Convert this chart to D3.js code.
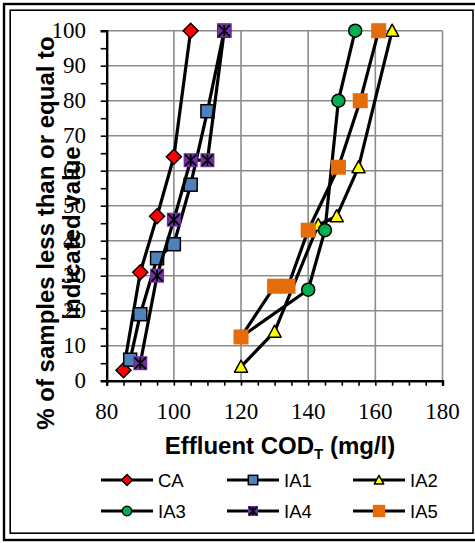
<!DOCTYPE html>
<html>
<head>
<meta charset="utf-8">
<script src="https://cdn.jsdelivr.net/npm/d3@7"></script>
<style>
	body { margin: 0; background: #fff; }
	svg { display: block; }
</style>
</head>
<body>
<svg id="chart" width="475" height="543"></svg>
<script>
// values: [effluent COD, % of samples]
const CA = [[85, 3], [90, 31], [95, 47], [100, 64], [105, 100]];
const IA1 = [[87, 6], [90, 19], [95, 35], [100, 39], [105, 56], [110, 77], [115, 100]];
const IA2 = [[120, 4], [130, 14], [143, 44.5], [148.5, 47], [155, 61], [165, 100]];
const IA3 = [[120, 12.5], [140, 26], [145, 43], [149, 80], [154, 100]];
const IA4 = [[90, 5], [95, 30], [100, 46], [105, 63], [110, 63], [115, 100]];
const IA5 = [[120, 12.5], [130, 27], [134, 27], [140, 43], [149, 61], [155.5, 80], [161, 100]];

const series_names = ['CA', 'IA1', 'IA2', 'IA3', 'IA4', 'IA5'];
const series_values = [CA, IA1, IA2, IA3, IA4, IA5];
const x_ticks = [80, 100, 120, 140, 160, 180];
const y_ticks = [0, 10, 20, 30, 40, 50, 60, 70, 80, 90, 100];

const serif = "'Liberation Serif'";
const sans = "'Liberation Sans'";

const markers = {
	CA: { shape: 'diamond', fill: '#ff0000', stroke: '#000', size: 15 },
	IA1: { shape: 'square', fill: '#4f81bd', stroke: '#000', size: 13 },
	IA2: { shape: 'triangle', fill: '#ffff00', stroke: '#000', size: 13 },
	IA3: { shape: 'circle', fill: '#00b050', stroke: '#000', size: 13 },
	IA4: { shape: 'star', fill: '#7030a0', stroke: '#000', size: 14 },
	IA5: { shape: 'square', fill: '#e46c0a', stroke: 'none', size: 15 },
};

const svg = d3.select('#chart');

// double frame (outer one runs off the right edge)
svg.append('rect')
	.attr('x', 4).attr('y', 4).attr('width', 474).attr('height', 536)
	.attr('fill', 'none').attr('stroke', '#000').attr('stroke-width', 2.4);
svg.append('rect')
	.attr('x', 10.2).attr('y', 10.2).attr('width', 462.8).attr('height', 523)
	.attr('fill', 'none').attr('stroke', '#000').attr('stroke-width', 1.6);

const x = d3.scaleLinear().domain([80, 180]).range([106.7, 442.5]);
const y = d3.scaleLinear().domain([0, 100]).range([380.7, 30.7]);

// gridlines
svg.append('g')
	.selectAll('line')
	.data(y_ticks.filter(d => d > 0))
	.join('line')
	.attr('x1', x(80)).attr('x2', x(180))
	.attr('y1', d => y(d)).attr('y2', d => y(d))
	.attr('stroke', '#8c8c8c').attr('stroke-width', 1.6);
svg.append('g')
	.selectAll('line')
	.data(x_ticks.filter(d => d > 80))
	.join('line')
	.attr('x1', d => x(d)).attr('x2', d => x(d))
	.attr('y1', y(0)).attr('y2', y(100))
	.attr('stroke', '#8c8c8c').attr('stroke-width', 1.6);

// axes, ticks only; labels drawn below
const gx = svg.append('g')
	.attr('transform', `translate(${[0, y(0)]})`)
	.call(d3.axisBottom(x).tickValues(d3.range(80, 181, 5)).tickSize(5).tickFormat(''));
gx.select('.domain').attr('stroke-width', 2.4);
gx.selectAll('.tick line').attr('stroke-width', 1.6);
gx.selectAll('.tick text').remove();

const gy = svg.append('g')
	.attr('transform', `translate(${[x(80), 0]})`)
	.call(d3.axisLeft(y).tickValues(d3.range(0, 101, 5)).tickSize(6).tickFormat(''));
gy.select('.domain').attr('stroke-width', 2.4);
gy.selectAll('.tick line').attr('stroke-width', 1.6);
gy.selectAll('.tick text').remove();

svg.append('g')
	.selectAll('text')
	.data(x_ticks)
	.join('text')
	.attr('x', d => x(d))
	.attr('y', 419)
	.attr('text-anchor', 'middle')
	.style('font-family', serif)
	.style('font-size', '23px')
	.attr('fill', '#000')
	.text(d => d);

svg.append('g')
	.selectAll('text')
	.data(y_ticks)
	.join('text')
	.attr('x', 86)
	.attr('y', d => y(d))
	.attr('dy', '0.33em')
	.attr('text-anchor', 'end')
	.style('font-family', serif)
	.style('font-size', '23px')
	.attr('fill', '#000')
	.text(d => d);

// axis titles
const xt = svg.append('text')
	.attr('x', 280).attr('y', 454)
	.attr('text-anchor', 'middle')
	.style('font-family', sans)
	.style('font-weight', 'bold')
	.style('font-size', '24px');
xt.append('tspan').text('Effluent COD');
xt.append('tspan').style('font-size', '15px').attr('dy', 5).text('T');
xt.append('tspan').attr('dy', -5).text(' (mg/l)');

const ytitle = ['% of samples less than or equal to', 'indicated value'];
svg.append('g')
	.selectAll('text')
	.data(ytitle)
	.join('text')
	.attr('transform', (d, i) => `translate(${[54 + i * 26, 233]}) rotate(-90)`)
	.attr('text-anchor', 'middle')
	.style('font-family', sans)
	.style('font-weight', 'bold')
	.style('font-size', '24px')
	.text(d => d);

// marker drawing
function drawMarker(g, m, scale) {
	const s = m.size * scale;
	const h = s / 2;
	if (m.shape === 'diamond') {
		g.append('path').attr('d', `M0,${-h}L${h},0L0,${h}L${-h},0Z`)
			.attr('fill', m.fill).attr('stroke', m.stroke).attr('stroke-width', 1.5);
	} else if (m.shape === 'square') {
		g.append('rect').attr('x', -h).attr('y', -h).attr('width', s).attr('height', s)
			.attr('fill', m.fill).attr('stroke', m.stroke).attr('stroke-width', 1.5);
	} else if (m.shape === 'triangle') {
		g.append('path').attr('d', `M0,${-h}L${h},${h * 0.85}L${-h},${h * 0.85}Z`)
			.attr('fill', m.fill).attr('stroke', m.stroke).attr('stroke-width', 1.5)
			.attr('stroke-linejoin', 'round');
	} else if (m.shape === 'circle') {
		g.append('circle').attr('r', h)
			.attr('fill', m.fill).attr('stroke', m.stroke).attr('stroke-width', 1.5);
	} else if (m.shape === 'star') {
		g.append('rect').attr('x', -h).attr('y', -h).attr('width', s).attr('height', s)
			.attr('fill', m.fill);
		const k = h * 0.8;
		g.append('path').attr('d', `M${-k},${-k}L${k},${k}M${k},${-k}L${-k},${k}M0,${-k}L0,${k}`)
			.attr('stroke', m.stroke).attr('stroke-width', 1.8);
	}
}

const line = d3.line()
	.x(d => x(d[0]))
	.y(d => y(d[1]));

const plot = svg.append('g');
series_names.forEach((name, i) => {
	const g = plot.append('g').attr('class', 'series ' + name);
	g.append('path')
		.attr('d', line(series_values[i]))
		.attr('fill', 'none')
		.attr('stroke', '#000')
		.attr('stroke-width', 3.2)
		.attr('stroke-linejoin', 'round');
	g.selectAll('g.pt')
		.data(series_values[i])
		.join('g')
		.attr('class', 'pt')
		.attr('transform', d => `translate(${[x(d[0]), y(d[1])]})`)
		.each(function () {
			drawMarker(d3.select(this), markers[name], 1);
		});
});

// legend
const leg_cols = [127, 253, 379];
const leg_rows = [480, 511];
const legend = svg.append('g');
series_names.forEach((name, i) => {
	const cx = leg_cols[i % 3];
	const cy = leg_rows[Math.floor(i / 3)];
	const g = legend.append('g').attr('transform', `translate(${[cx, cy]})`);
	g.append('line').attr('x1', -26).attr('x2', 26)
		.attr('stroke', '#000').attr('stroke-width', 3);
	drawMarker(g, markers[name], name === 'IA5' ? 0.82 : 0.72);
	g.append('text')
		.attr('x', 31).attr('dy', '0.36em')
		.style('font-family', sans)
		.style('font-size', '18.5px')
		.text(name);
});
</script>
</body>
</html>
